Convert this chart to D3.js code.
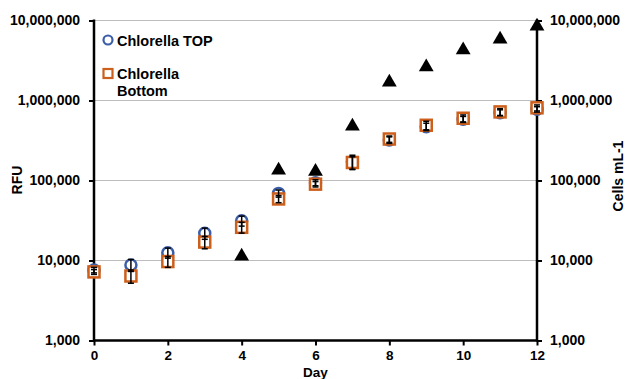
<!DOCTYPE html>
<html>
<head>
<meta charset="utf-8">
<script src="https://cdn.jsdelivr.net/npm/d3@7"></script>
<style>
  body { margin: 0; background: #fff; }
  text { font-family: Arial, "Liberation Sans", sans-serif; font-weight: bold; }
</style>
</head>
<body>
<div id="chart"></div>
<script>
var days = [0, 1, 2, 3, 4, 5, 6, 7, 8, 9, 10, 11, 12];
var topRFU = [7600, 8800, 12500, 21900, 31400, 69000, 94000, 172000, 321000, 470000, 582000, 705000, 776000];
var topErr = [600, 1500, 1800, 3500, 4500, 7000, 8000, 35000, 30000, 50000, 50000, 60000, 60000];
var bottomRFU = [7200, 6400, 9700, 17000, 26000, 58800, 90000, 168000, 330000, 490000, 600000, 720000, 810000];
var bottomErr = [500, 1200, 1500, 3000, 4000, 6000, 7000, 30000, 30000, 60000, 60000, 70000, 70000];
var cellDays = [4, 5, 6, 7, 8, 9, 10, 11, 12];
var cells = [11600, 138000, 133000, 490000, 1740000, 2700000, 4400000, 6000000, 8700000];
var yTicks = [1000, 10000, 100000, 1000000, 10000000];
var xTicks = [0, 2, 4, 6, 8, 10, 12];

(function() {
var width = 626, height = 379;
var pl = 94, pr = 537, pt = 20.5, pb = 340.5;

var svg = d3.select("#chart").append("svg").attr("width", width).attr("height", height);

var x = d3.scaleLinear().domain([0, 12]).range([pl, pr]);
var y = d3.scaleLog().domain([1000, 10000000]).range([pb, pt]);
var y2 = d3.scaleLog().domain([1000, 10000000]).range([pb, pt]);
var fmt = d3.format(",");

// gridlines
svg.append("g").selectAll("line").data(yTicks.slice(1)).enter().append("line")
  .attr("x1", pl).attr("x2", pr)
  .attr("y1", function(d) { return y(d); }).attr("y2", function(d) { return y(d); })
  .attr("stroke", "#bdbdbd").attr("stroke-width", 1.2);

// axes
var axL = svg.append("g").attr("transform", "translate(" + pl + ",0)")
  .call(d3.axisLeft(y).tickValues(yTicks).tickFormat(fmt).tickSize(5).tickPadding(9));
var axR = svg.append("g").attr("transform", "translate(" + pr + ",0)")
  .call(d3.axisRight(y2).tickValues(yTicks).tickFormat(fmt).tickSize(5).tickPadding(8));
var axB = svg.append("g").attr("transform", "translate(0," + pb + ")")
  .call(d3.axisBottom(x).tickValues(xTicks).tickFormat(d3.format("d")).tickSize(5).tickPadding(5));
[axL, axR, axB].forEach(function(a) {
  a.select(".domain").remove();
  a.selectAll(".tick line").attr("stroke", "#000").attr("stroke-width", 2);
  a.selectAll("text").attr("font-size", 14).attr("fill", "#000");
});
axB.selectAll("text").attr("font-size", 13.5);
svg.append("line").attr("x1", pl).attr("x2", pl).attr("y1", pt - 1).attr("y2", pb + 1)
  .attr("stroke", "#000").attr("stroke-width", 2.5);
svg.append("line").attr("x1", pr).attr("x2", pr).attr("y1", pt - 1).attr("y2", pb + 1)
  .attr("stroke", "#000").attr("stroke-width", 2.5);
svg.append("line").attr("x1", pl - 1).attr("x2", pr + 1).attr("y1", pb).attr("y2", pb)
  .attr("stroke", "#000").attr("stroke-width", 2.5);

// axis titles
svg.append("text").attr("transform", "translate(22,180) rotate(-90)")
  .attr("text-anchor", "middle").attr("font-size", 14).text("RFU");
svg.append("text").attr("transform", "translate(623,176) rotate(-90)")
  .attr("text-anchor", "middle").attr("font-size", 14).text("Cells mL-1");
svg.append("text").attr("x", x(6)).attr("y", 377)
  .attr("text-anchor", "middle").attr("font-size", 13.5).text("Day");

var blue = "#3c5ea8", orange = "#cc5f1c";

// triangles (cells, right axis)
svg.append("g").selectAll("path").data(cellDays).enter().append("path")
  .attr("d", d3.symbol().type(d3.symbolTriangle).size(95))
  .attr("transform", function(d, i) { return "translate(" + x(d) + "," + (y2(cells[i]) + 1) + ")"; })
  .attr("fill", "#000");

// circles (top)
svg.append("g").selectAll("circle").data(days).enter().append("circle")
  .attr("cx", function(d) { return x(d); })
  .attr("cy", function(d, i) { return y(topRFU[i]); })
  .attr("r", 5.5).attr("fill", "#fff").attr("stroke", blue).attr("stroke-width", 2.5);

// squares (bottom)
svg.append("g").selectAll("rect").data(days).enter().append("rect")
  .attr("x", function(d) { return x(d) - 5.5; })
  .attr("y", function(d, i) { return y(bottomRFU[i]) - 5.5; })
  .attr("width", 11).attr("height", 11)
  .attr("fill", "#fff").attr("stroke", orange).attr("stroke-width", 2.5);

// error bars
function errBars(vals, errs) {
  var g = svg.append("g").attr("stroke", "#000").attr("stroke-width", 1.5);
  days.forEach(function(d, i) {
    var cx = x(d), y1 = y(vals[i] + errs[i]), yb = y(vals[i] - errs[i]);
    g.append("line").attr("x1", cx).attr("x2", cx).attr("y1", y1).attr("y2", yb);
    g.append("line").attr("x1", cx - 3).attr("x2", cx + 3).attr("y1", y1).attr("y2", y1);
    g.append("line").attr("x1", cx - 3).attr("x2", cx + 3).attr("y1", yb).attr("y2", yb);
  });
}
errBars(topRFU, topErr);
errBars(bottomRFU, bottomErr);

// legend
var lg = svg.append("g");
lg.append("circle").attr("cx", 108).attr("cy", 40).attr("r", 4.5)
  .attr("fill", "#fff").attr("stroke", blue).attr("stroke-width", 2.2);
lg.append("text").attr("x", 117).attr("y", 45.5).attr("font-size", 14.5).text("Chlorella TOP");
lg.append("rect").attr("x", 103.5).attr("y", 69).attr("width", 9).attr("height", 9)
  .attr("fill", "#fff").attr("stroke", orange).attr("stroke-width", 2.2);
lg.append("text").attr("x", 117).attr("y", 78.5).attr("font-size", 14.5).text("Chlorella");
lg.append("text").attr("x", 117).attr("y", 95.5).attr("font-size", 14.5).text("Bottom");
})();
</script>
</body>
</html>
